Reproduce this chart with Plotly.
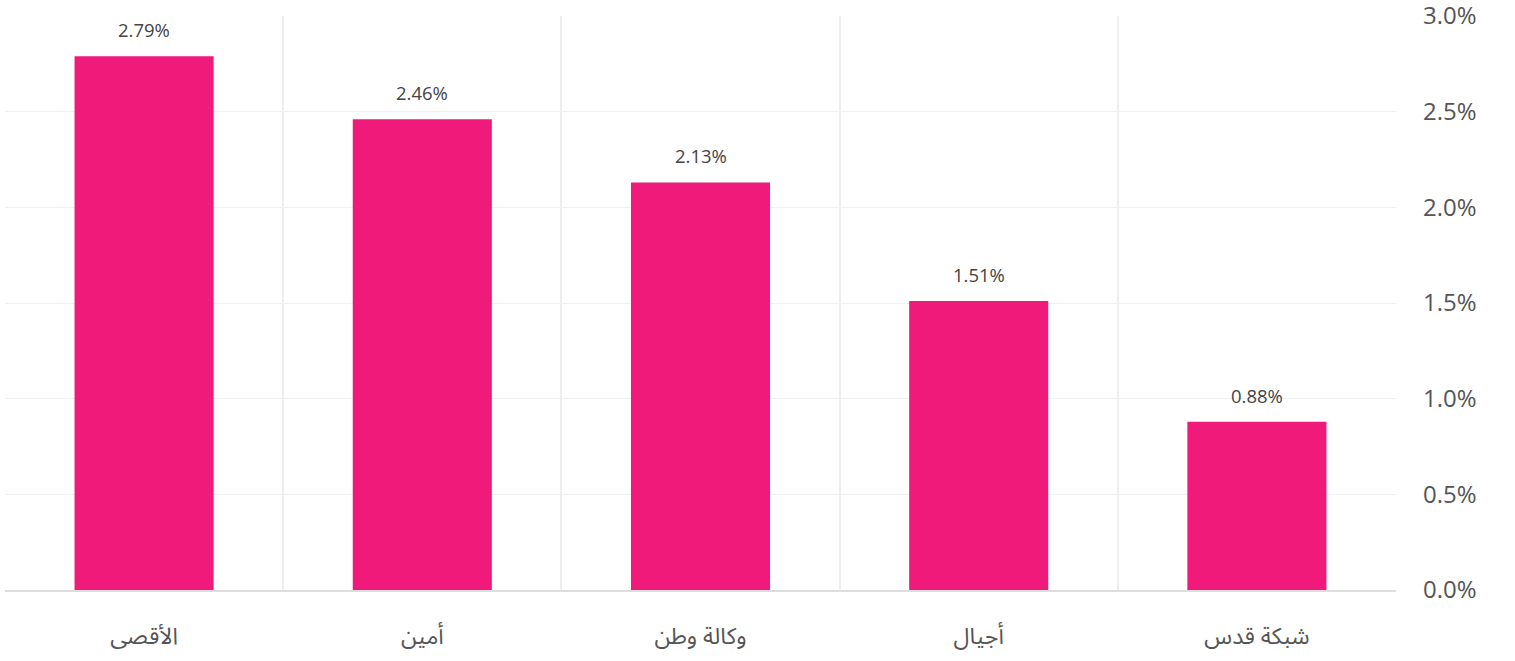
import plotly.graph_objects as go

categories = ["الأقصى", "أمين", "وكالة وطن", "أجيال", "شبكة قدس"]
values = [2.79, 2.46, 2.13, 1.51, 0.88]
bar_labels = ["2.79%", "2.46%", "2.13%", "1.51%", "0.88%"]
y_ticks = [0, 0.5, 1.0, 1.5, 2.0, 2.5, 3.0]
y_tick_labels = ["0.0%", "0.5%", "1.0%", "1.5%", "2.0%", "2.5%", "3.0%"]

fig = go.Figure()
fig.add_trace(go.Bar(
    x=categories, y=values,
    marker=dict(color="#F01A7A", line=dict(width=0)),
    width=0.5,
    cliponaxis=False,
))

for c, v, t in zip(categories, values, bar_labels):
    fig.add_annotation(
        x=c, y=v, text=t, showarrow=False, yanchor="bottom", yshift=12,
        font=dict(size=18.5, color="#444444", family="Open Sans, DejaVu Sans"),
    )

fig.update_layout(
    width=1515, height=661,
    margin=dict(l=5, r=119, t=16, b=71, autoexpand=False),
    paper_bgcolor="white", plot_bgcolor="white",
    showlegend=False,
    font=dict(family="Open Sans, DejaVu Sans", color="#555555"),
    bargap=0.5,
)
fig.update_xaxes(
    type="category", automargin=False,
    tickson="boundaries",
    showgrid=True, gridcolor="#EEEEEE", gridwidth=2,
    ticks="", showline=True, linecolor="#DDDDDD", linewidth=2,
    tickfont=dict(size=23, color="#555555", family="Noto Sans Arabic, Noto Sans, DejaVu Sans"),
    ticklabelstandoff=24, ticklabeloverflow="allow",
)
fig.update_yaxes(
    side="right", range=[0, 3], automargin=False,
    tickvals=y_ticks, ticktext=y_tick_labels,
    showgrid=True, gridcolor="#F0F0F0", gridwidth=1,
    zeroline=False, showline=False, ticks="",
    tickfont=dict(size=24, color="#555555", family="Open Sans, DejaVu Sans"),
    ticklabelstandoff=26, ticklabeloverflow="allow",
)

fig.write_html(
    "out.html",
    config={"displayModeBar": False},
    post_script="document.body.style.margin='0';document.body.style.overflow='hidden';",
)
